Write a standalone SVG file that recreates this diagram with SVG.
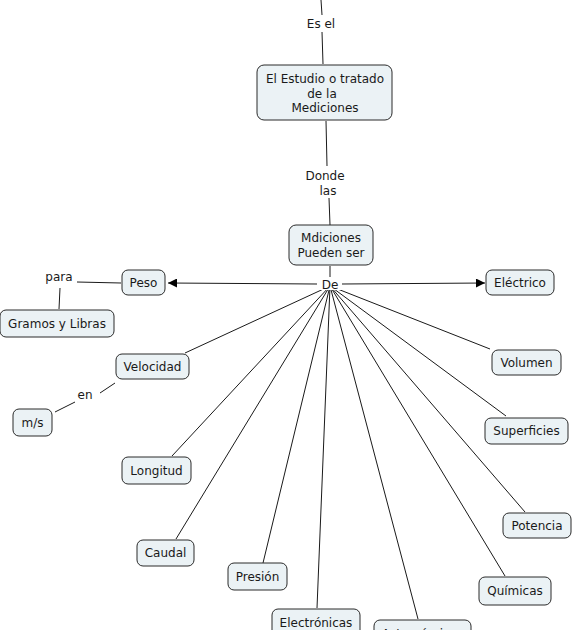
<svg xmlns="http://www.w3.org/2000/svg" width="574" height="630" viewBox="0 0 574 630">
<style>
.n rect{fill:#ebf2f5;stroke:#2a2a2a;stroke-width:1}
text{font-family:"DejaVu Sans",Verdana,sans-serif;font-size:12px;fill:#1a1a1a;text-anchor:middle}
.c line{stroke:#1a1a1a;stroke-width:1}
</style>
<defs>
<marker id="ah" viewBox="0 0 10 10" refX="10" refY="5" markerWidth="10" markerHeight="9" markerUnits="userSpaceOnUse" orient="auto"><path d="M0,0L10,5L0,10z" fill="#000"/></marker>
</defs>
<rect width="574" height="630" fill="#fff"/>
<g id="connectors" class="c">
<line x1="321" y1="0" x2="322" y2="15"/>
<line x1="322" y1="32" x2="323" y2="64"/>
<line x1="326" y1="121" x2="327" y2="166"/>
<line x1="329" y1="198" x2="330" y2="225"/>
<line x1="330" y1="266" x2="330" y2="277"/>
<line x1="317" y1="284" x2="168" y2="283" marker-end="url(#ah)"/>
<line x1="342" y1="284" x2="485" y2="283" marker-end="url(#ah)"/>
<line x1="330" y1="286" x2="185" y2="353"/>
<line x1="330" y1="286" x2="172" y2="456"/>
<line x1="330" y1="286" x2="176" y2="539"/>
<line x1="330" y1="286" x2="263" y2="563"/>
<line x1="330" y1="286" x2="317" y2="608"/>
<line x1="330" y1="286" x2="418" y2="619"/>
<line x1="330" y1="286" x2="505" y2="576"/>
<line x1="330" y1="286" x2="525" y2="512"/>
<line x1="330" y1="286" x2="506" y2="416"/>
<line x1="330" y1="286" x2="490" y2="349"/>
<line x1="121" y1="283" x2="77" y2="282"/>
<line x1="60" y1="288" x2="59" y2="309"/>
<line x1="115" y1="383" x2="100" y2="393"/>
<line x1="75" y1="402" x2="55" y2="412"/>
</g>
<g id="lbl-esel"><rect x="304" y="15" width="36" height="17" fill="#fff"/><text x="321" y="28">Es el</text></g>
<g id="lbl-donde"><text x="325" y="180">Donde</text><text x="328" y="195">las</text></g>
<g id="lbl-de"><rect x="318" y="277" width="24" height="13" fill="#fff"/><text x="330" y="289">De</text></g>
<g id="lbl-para"><text x="59" y="281">para</text></g>
<g id="lbl-en"><text x="85" y="399">en</text></g>
<g id="n-estudio" class="n"><rect x="257" y="65" width="135" height="55" rx="7"/><text x="325" y="83">El Estudio o tratado</text><text x="322" y="98">de la</text><text x="325" y="112">Mediciones</text></g>
<g id="n-mdiciones" class="n"><rect x="289" y="225" width="84" height="40" rx="7"/><text x="331" y="242">Mdiciones</text><text x="331" y="257">Pueden ser</text></g>
<g id="n-peso" class="n"><rect x="122" y="270" width="43" height="25" rx="6"/><text x="143.5" y="287">Peso</text></g>
<g id="n-electrico" class="n"><rect x="486" y="270" width="68" height="25" rx="6"/><text x="520" y="287">Eléctrico</text></g>
<g id="n-gramos" class="n"><rect x="0" y="310" width="114" height="27" rx="6"/><text x="57" y="328">Gramos y Libras</text></g>
<g id="n-velocidad" class="n"><rect x="116" y="354" width="73" height="25" rx="6"/><text x="152.5" y="371">Velocidad</text></g>
<g id="n-ms" class="n"><rect x="13" y="409" width="39" height="27" rx="6"/><text x="32.5" y="427">m/s</text></g>
<g id="n-volumen" class="n"><rect x="492" y="350" width="69" height="25" rx="6"/><text x="526.5" y="367">Volumen</text></g>
<g id="n-superficies" class="n"><rect x="485" y="418" width="83" height="26" rx="6"/><text x="526.5" y="435">Superficies</text></g>
<g id="n-longitud" class="n"><rect x="122" y="457" width="69" height="27" rx="6"/><text x="156.5" y="475">Longitud</text></g>
<g id="n-potencia" class="n"><rect x="503" y="513" width="68" height="25" rx="6"/><text x="537" y="530">Potencia</text></g>
<g id="n-caudal" class="n"><rect x="137" y="540" width="57" height="26" rx="6"/><text x="165.5" y="557">Caudal</text></g>
<g id="n-presion" class="n"><rect x="228" y="563" width="59" height="27" rx="6"/><text x="257.5" y="581">Presión</text></g>
<g id="n-quimicas" class="n"><rect x="479" y="577" width="72" height="28" rx="6"/><text x="515" y="595">Químicas</text></g>
<g id="n-electronicas" class="n"><rect x="272" y="609" width="88" height="30" rx="6"/><text x="316" y="627">Electrónicas</text></g>
<g id="n-astronomicas" class="n"><rect x="374" y="620" width="97" height="30" rx="6"/><text x="422.5" y="638">Astronómicas</text></g>
</svg>
